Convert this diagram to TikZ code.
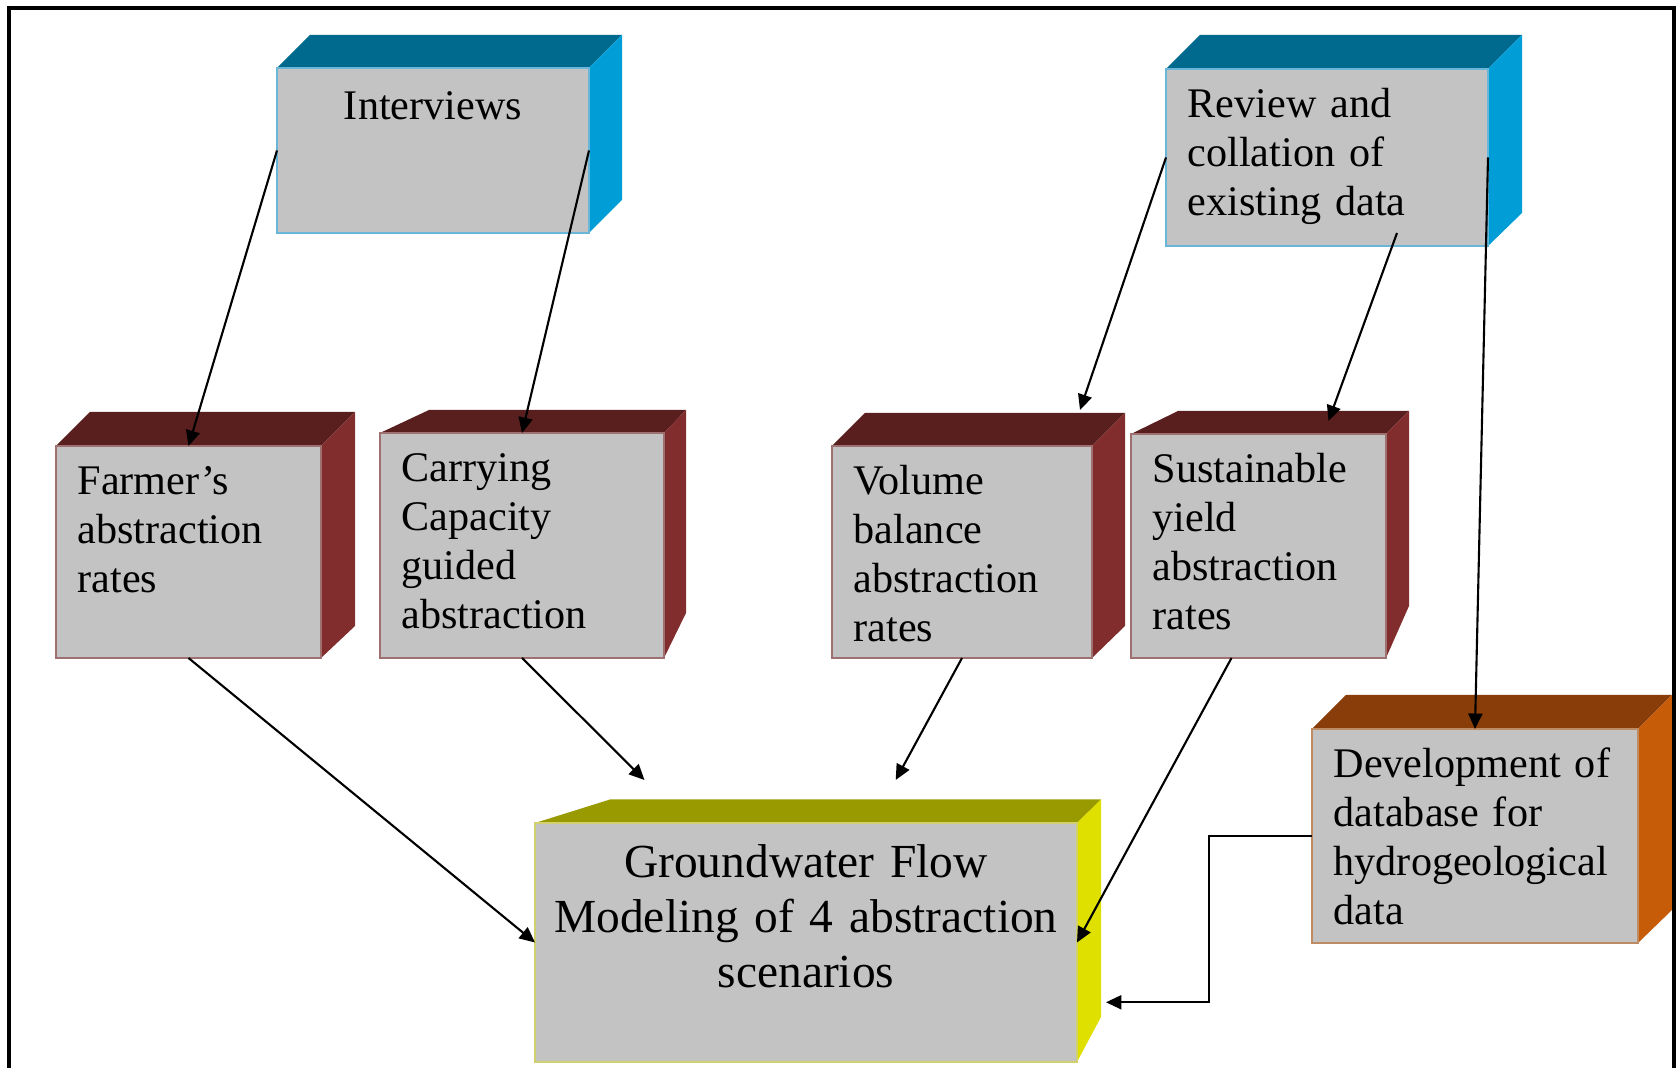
\documentclass[tikz,border=0pt]{standalone}
\usepackage{fontspec}
\setmainfont{Liberation Serif}
\usepackage{tikz}
\usetikzlibrary{arrows.meta,positioning,calc,backgrounds}
\definecolor{gwFaceFill}{RGB}{195,195,195}
\definecolor{gwBlueTop}{RGB}{0,106,142}
\definecolor{gwBlueSide}{RGB}{0,157,214}
\definecolor{gwBlueEdge}{RGB}{105,182,216}
\definecolor{gwRedTop}{RGB}{89,31,31}
\definecolor{gwRedSide}{RGB}{130,45,45}
\definecolor{gwRedEdge}{RGB}{158,112,112}
\definecolor{gwBrownTop}{RGB}{137,61,8}
\definecolor{gwBrownSide}{RGB}{198,92,8}
\definecolor{gwBrownEdge}{RGB}{190,140,100}
\definecolor{gwOliveTop}{RGB}{153,153,0}
\definecolor{gwOliveSide}{RGB}{224,224,0}
\definecolor{gwOliveEdge}{RGB}{208,208,112}
\tikzset{
  facebox/.style={rectangle, fill=gwFaceFill, line width=0.5pt, outer sep=0pt, inner sep=0pt},
  sourcebox/.style={facebox, draw=gwBlueEdge},
  ratebox/.style={facebox, draw=gwRedEdge},
  databox/.style={facebox, draw=gwBrownEdge},
  modelbox/.style={facebox, draw=gwOliveEdge},
  boxtext/.style={font=\fontsize{12}{13.9}\selectfont, text width=3cm, align=left,
    inner sep=0pt, anchor=base west},
  modeltext/.style={font=\fontsize{13.5}{15.6}\selectfont, text width=5.3cm, align=center,
    inner sep=0pt, anchor=base},
  flowarrow/.style={-{Triangle[length=4.4pt,width=4pt]}, draw=black, line width=0.6pt},
}
\newcommand{\cubesides}[7]{%
  \begin{pgfonlayer}{background}
    \fill[#2] (#1.north west) -- ++(#4,#6) -- ($(#1.north east)+(#5,#6)$) -- (#1.north east) -- cycle;
    \fill[#3] (#1.north east) -- ++(#5,#6) -- ($(#1.south east)+(#5,#7)$) -- (#1.south east) -- cycle;
  \end{pgfonlayer}}

\begin{document}
\begin{tikzpicture}[x=1cm,y=1cm]
  \useasboundingbox (0,0) rectangle (16.76,10.68);
  \draw[line width=0.04cm] (0.09,0) -- (0.09,10.60) -- (16.74,10.60) -- (16.74,0);

  \node[sourcebox, minimum width=3.12cm, minimum height=1.65cm] (intv) at (4.33,9.175) {};
  \cubesides{intv}{gwBlueTop}{gwBlueSide}{0.33}{0.33}{0.33}{0.33}
  \node[boxtext, align=center, anchor=base] (intvtxt) at ($(intv.north)+(0,-0.52)$) {Interviews};

  \node[sourcebox, minimum width=3.22cm, minimum height=1.77cm] (rev) at (13.27,9.105) {};
  \cubesides{rev}{gwBlueTop}{gwBlueSide}{0.34}{0.34}{0.34}{0.33}
  \node[boxtext] (revtxt) at ($(rev.north west)+(0.21,-0.485)$) {Review and\\collation of\\existing data};

  \node[ratebox, minimum width=2.65cm, minimum height=2.12cm] (farm) at (1.885,5.16) {};
  \cubesides{farm}{gwRedTop}{gwRedSide}{0.34}{0.34}{0.34}{0.32}
  \node[boxtext] (farmtxt) at ($(farm.north west)+(0.21,-0.485)$) {Farmer's\\abstraction\\rates};

  \node[ratebox, minimum width=2.84cm, minimum height=2.25cm] (carry) at (5.22,5.225) {};
  \cubesides{carry}{gwRedTop}{gwRedSide}{0.49}{0.22}{0.23}{0.45}
  \node[boxtext] (carrytxt) at ($(carry.north west)+(0.21,-0.485)$) {Carrying\\Capacity\\guided\\abstraction};

  \node[ratebox, minimum width=2.60cm, minimum height=2.12cm] (vol) at (9.62,5.16) {};
  \cubesides{vol}{gwRedTop}{gwRedSide}{0.33}{0.33}{0.33}{0.32}
  \node[boxtext] (voltxt) at ($(vol.north west)+(0.21,-0.485)$) {Volume\\balance\\abstraction\\rates};

  \node[ratebox, minimum width=2.55cm, minimum height=2.24cm] (sust) at (12.585,5.22) {};
  \cubesides{sust}{gwRedTop}{gwRedSide}{0.47}{0.23}{0.23}{0.52}
  \node[boxtext] (susttxt) at ($(sust.north west)+(0.21,-0.485)$) {Sustainable\\yield\\abstraction\\rates};

  \node[databox, minimum width=3.26cm, minimum height=2.14cm] (dev) at (14.75,2.32) {};
  \cubesides{dev}{gwBrownTop}{gwBrownSide}{0.34}{0.34}{0.34}{0.33}
  \node[boxtext] (devtxt) at ($(dev.north west)+(0.21,-0.485)$) {Development of\\database for\\hydrogeological\\data};

  \node[modelbox, minimum width=5.42cm, minimum height=2.39cm] (gw) at (8.06,1.255) {};
  \cubesides{gw}{gwOliveTop}{gwOliveSide}{0.75}{0.24}{0.235}{0.45}
  \node[modeltext] (gwtxt) at ($(gw.north)+(0,-0.547)$) {Groundwater Flow\\Modeling of 4 abstraction\\scenarios};

  \coordinate (carryend) at (6.445,2.88);
  \coordinate (volend) at (8.957,2.88);
  \coordinate (devend) at (11.06,0.657);

  \draw[flowarrow] (intv.west) -- (farm.north);
  \draw[flowarrow] (intv.east) -- (carry.north);
  \draw[flowarrow] (rev.west) -- ($(vol.north east)+(-0.12,0.36)$);
  \draw[flowarrow] ($(rev.south)+(0.7,0.13)$) -- ($(sust.north)+(0.7,0.13)$);
  \draw[flowarrow] (rev.east) -- (dev.north);
  \draw[flowarrow] (farm.south) -- (gw.west);
  \draw[flowarrow] (carry.south) -- (carryend);
  \draw[flowarrow] (vol.south) -- (volend);
  \draw[flowarrow] ([xshift=-0.27cm]sust.south) -- (gw.east);
  \draw[flowarrow] (dev.west) -| ([xshift=1.03cm]devend) -- (devend);
\end{tikzpicture}
\end{document}
